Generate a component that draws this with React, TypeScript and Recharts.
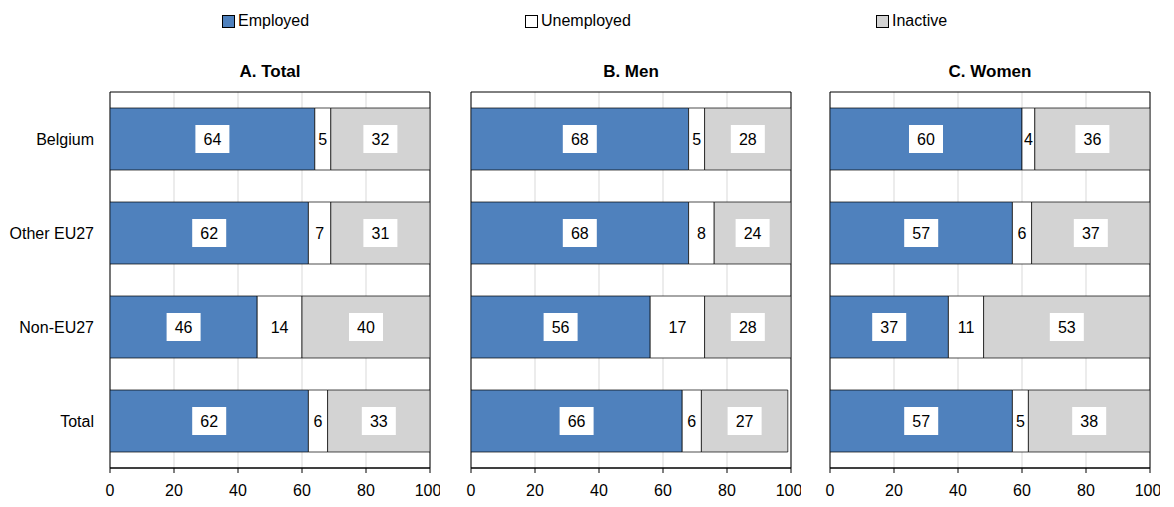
import { Bar, BarChart, CartesianGrid, ReferenceArea, XAxis, YAxis } from "recharts";

const categories = ["Belgium", "Other EU27", "Non-EU27", "Total"];
const totalEmployed = [64, 62, 46, 62];
const totalUnemployed = [5, 7, 14, 6];
const totalInactive = [32, 31, 40, 33];
const menEmployed = [68, 68, 56, 66];
const menUnemployed = [5, 8, 17, 6];
const menInactive = [28, 24, 28, 27];
const womenEmployed = [60, 57, 37, 57];
const womenUnemployed = [4, 6, 11, 5];
const womenInactive = [36, 37, 53, 38];
const xTicks = [0, 20, 40, 60, 80, 100];

const font = "'Liberation Sans', Arial, sans-serif";

const build = (e: number[], u: number[], i: number[]) =>
    categories.map((name, k) => ({ name, employed: e[k], unemployed: u[k], inactive: i[k] }));

const makeLabel = (data: any[], key: string, boxed: boolean) => (props: any) => {
    const { x, y, width, height, index } = props;
    const value = data[index][key];
    const cx = x + width / 2;
    const cy = y + height / 2;
    const w = String(value).length > 1 ? 34 : 22;
    return (
        <g>
            {boxed && <rect x={cx - w / 2} y={cy - 14} width={w} height={28} fill="#fff" />}
            <text x={cx} y={cy + 6} textAnchor="middle" fontSize={16} fontFamily={font} fill="#000">
                {value}
            </text>
        </g>
    );
};

interface PanelProps {
    data: any[];
    left: number;
    width: number;
    showY: boolean;
    title: string;
}

const Panel = ({ data, left, width, showY, title }: PanelProps) => (
    <div style={{ position: "absolute", left, top: 0, width, height: 507 }}>
        <div
            style={{
                position: "absolute",
                left: showY ? 110 : 10,
                width: 320,
                top: 62,
                textAlign: "center",
                fontFamily: font,
                fontWeight: "bold",
                fontSize: 17,
            }}
        >
            {title}
        </div>
        <BarChart
            width={width}
            height={507}
            data={data}
            layout="vertical"
            barSize={62}
            margin={{ top: 92, right: width - (showY ? 430 : 330), left: showY ? 0 : 10, bottom: 9 }}
        >
            <CartesianGrid horizontal={false} stroke="#d9d9d9" />
            <XAxis
                type="number"
                domain={[0, 100]}
                allowDataOverflow
                ticks={xTicks}
                height={30}
                tick={{ fontSize: 16, fontFamily: font, fill: "#000" }}
                stroke="#000"
                tickSize={5}
                tickMargin={12}
            />
            <YAxis
                type="category"
                dataKey="name"
                hide={!showY}
                width={110}
                axisLine={false}
                tickLine={false}
                tick={{ fontSize: 16, fontFamily: font, fill: "#000" }}
                tickMargin={10}
            />
            <ReferenceArea x1={0} x2={100} fill="none" stroke="#000" strokeWidth={1} />
            <Bar dataKey="employed" stackId="a" fill="#4f81bd" stroke="#000" strokeWidth={0.7} isAnimationActive={false} label={makeLabel(data, "employed", true)} />
            <Bar dataKey="unemployed" stackId="a" fill="#fff" stroke="#000" strokeWidth={0.7} isAnimationActive={false} label={makeLabel(data, "unemployed", false)} />
            <Bar dataKey="inactive" stackId="a" fill="#d3d3d3" stroke="#000" strokeWidth={0.7} isAnimationActive={false} label={makeLabel(data, "inactive", true)} />
        </BarChart>
    </div>
);

const LegendItem = ({ left, color, text }: { left: number; color: string; text: string }) => (
    <div style={{ position: "absolute", left, top: 12, display: "flex", alignItems: "center", fontFamily: font, fontSize: 16 }}>
        <span style={{ width: 11, height: 11, background: color, border: "1px solid #000", marginRight: 3, display: "inline-block" }} />
        {text}
    </div>
);

const App = () => (
    <div style={{ position: "fixed", left: 0, top: 0, width: 1174, height: 507, background: "#fff" }}>
        <LegendItem left={222} color="#4f81bd" text="Employed" />
        <LegendItem left={525} color="#fff" text="Unemployed" />
        <LegendItem left={876} color="#d3d3d3" text="Inactive" />
        <Panel data={build(totalEmployed, totalUnemployed, totalInactive)} left={0} width={440} showY title="A. Total" />
        <Panel data={build(menEmployed, menUnemployed, menInactive)} left={461} width={340} showY={false} title="B. Men" />
        <Panel data={build(womenEmployed, womenUnemployed, womenInactive)} left={820} width={340} showY={false} title="C. Women" />
    </div>
);

export default App;
